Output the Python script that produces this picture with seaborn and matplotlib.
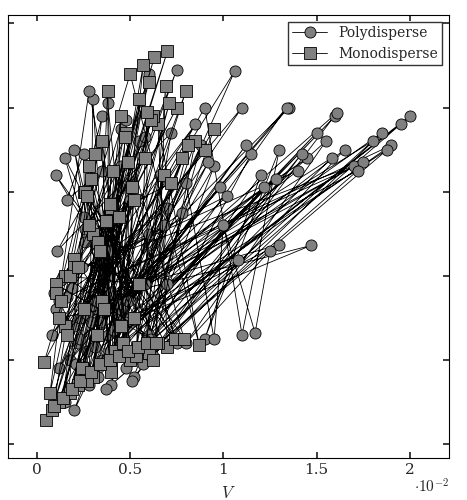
import matplotlib.pyplot as plt
import seaborn as sns

sns.set_theme(style="white")
plt.rcParams['font.family'] = ['DejaVu Serif']
plt.rcParams['mathtext.fontset'] = 'cm'

# Polydisperse (x in units of 1e-2)
poly_x = [0.15, 1.50, 0.25, 1.60, 0.35, 2.00, 0.45, 1.95, 0.55, 1.80, 0.20, 1.70, 0.30, 1.45,
          0.40, 1.30, 0.50, 1.08, 0.60, 1.20, 0.90, 1.30, 1.10, 0.90, 0.12, 0.75, 0.22, 0.60,
          0.28, 0.30, 0.38, 0.20, 0.48, 0.15, 0.65, 0.10, 0.75, 0.50, 0.10, 0.85, 0.08, 1.10,
          0.18, 1.35, 0.32, 1.47, 0.42, 1.65, 0.52, 0.95, 0.58, 0.70, 0.33, 0.60, 0.27, 0.40,
          0.17, 0.25, 0.23, 1.06, 0.36, 1.34, 0.44, 1.61, 0.62, 1.85, 0.70, 1.55, 0.80, 1.25,
          1.17, 1.00, 0.95, 0.80, 0.46, 0.55, 0.38, 0.45, 0.26, 0.35, 0.14, 0.20, 0.09, 0.12,
          0.30, 0.50, 0.40, 0.66, 0.20, 0.88, 0.56, 1.15, 0.34, 1.40, 0.24, 1.75, 0.16, 1.90,
          0.21, 0.98, 0.31, 1.12, 0.41, 1.28, 0.51, 1.42, 0.61, 1.58, 0.27, 1.72, 0.37, 1.88,
          0.47, 0.68, 0.57, 0.78, 0.19, 0.58, 0.29, 0.48, 0.39, 0.38, 0.49, 0.28, 0.13, 1.02,
          0.23, 1.22, 0.33, 0.92, 0.43, 0.82, 0.53, 0.72, 0.11, 0.35, 0.16, 0.25, 0.26, 0.45]
poly_y = [0.50, 3.70, 0.80, 3.90, 1.00, 3.90, 1.20, 3.80, 1.10, 3.60, 1.40, 3.30, 1.60, 3.40,
          1.80, 2.37, 1.50, 2.19, 1.30, 3.20, 1.25, 3.50, 1.30, 4.00, 0.90, 4.45, 1.20, 4.40,
          0.70, 4.10, 1.30, 3.50, 0.90, 3.40, 1.20, 3.20, 1.20, 3.00, 1.60, 3.80, 1.30, 4.00,
          1.00, 4.00, 1.70, 2.36, 1.40, 3.50, 0.80, 3.30, 1.90, 2.80, 2.20, 2.50, 1.10, 2.30,
          0.60, 2.70, 1.50, 4.43, 0.95, 4.00, 1.65, 3.94, 1.05, 3.70, 1.90, 3.60, 1.20, 2.30,
          1.32, 2.60, 1.25, 3.10, 1.60, 3.60, 2.00, 3.75, 2.40, 3.90, 2.00, 2.20, 1.80, 1.70,
          0.85, 2.90, 0.70, 3.20, 0.40, 3.55, 1.00, 3.45, 1.45, 3.25, 2.10, 3.35, 1.75, 3.55,
          0.95, 3.05, 1.15, 3.55, 1.35, 3.15, 0.75, 3.45, 1.25, 3.40, 1.55, 3.25, 0.65, 3.50,
          1.45, 2.60, 0.95, 2.75, 1.85, 3.65, 1.45, 3.85, 1.10, 4.05, 1.70, 4.20, 1.95, 2.95,
          1.25, 3.05, 0.80, 3.35, 1.55, 3.60, 1.15, 3.70, 2.30, 3.25, 2.90, 3.45, 2.55, 3.30]

# Monodisperse
mono_x = [0.05, 0.63, 0.08, 0.70, 0.12, 0.60, 0.18, 0.55, 0.22, 0.80, 0.30, 0.45, 0.40, 0.35,
          0.50, 0.28, 0.60, 0.25, 0.70, 0.65, 0.87, 0.50, 0.04, 0.75, 0.15, 0.90, 0.25, 0.40,
          0.35, 0.30, 0.45, 0.20, 0.55, 0.15, 0.65, 0.10, 0.10, 0.58, 0.20, 0.48, 0.32, 0.38,
          0.42, 0.68, 0.52, 0.85, 0.62, 0.72, 0.28, 0.33, 0.18, 0.26, 0.13, 0.22, 0.07, 0.12,
          0.36, 0.44, 0.46, 0.52, 0.24, 0.62, 0.16, 0.78, 0.27, 0.57, 0.40, 0.34, 0.53, 0.95,
          0.09, 0.31, 0.14, 0.41, 0.19, 0.51, 0.23, 0.61, 0.29, 0.71, 0.34, 0.81, 0.39, 0.29,
          0.44, 0.39, 0.49, 0.49, 0.54, 0.59, 0.59, 0.69, 0.64, 0.37, 0.74, 0.27, 0.79, 0.47]
mono_y = [0.29, 4.60, 0.40, 4.67, 0.50, 4.30, 0.60, 4.10, 0.70, 4.20, 0.80, 3.90, 0.90, 3.60,
          1.00, 3.30, 1.08, 3.00, 1.15, 3.80, 1.18, 4.40, 0.98, 4.00, 1.40, 3.50, 1.60, 2.80,
          1.70, 2.50, 1.40, 2.20, 1.90, 2.00, 1.20, 1.90, 1.80, 3.40, 2.10, 3.70, 1.30, 4.20,
          1.10, 3.20, 1.50, 3.60, 1.00, 3.10, 2.60, 2.40, 2.00, 3.00, 1.70, 2.10, 0.60, 1.50,
          1.60, 2.70, 1.20, 2.90, 0.90, 3.90, 1.30, 3.40, 0.75, 4.50, 0.85, 2.30, 1.05, 3.75,
          0.45, 3.45, 0.55, 3.25, 0.65, 3.05, 0.75, 3.85, 0.85, 4.05, 0.95, 3.55, 1.00, 3.15,
          1.05, 2.85, 1.10, 3.35, 1.15, 3.95, 1.20, 4.25, 1.20, 2.65, 1.25, 2.95, 1.25, 3.65]

fig = plt.figure(figsize=(4.67, 5.0), dpi=100)
ax = fig.add_axes([8/467, 42/500, 441/467, 443/500])

kw = dict(sort=False, estimator=None, ax=ax, color='black', lw=0.6, markersize=8,
          markerfacecolor='#808080', markeredgecolor='black', markeredgewidth=0.6)
sns.lineplot(x=poly_x, y=poly_y, marker='o', label='Polydisperse', **kw)
sns.lineplot(x=mono_x, y=mono_y, marker='s', label='Monodisperse', **kw)

ax.set_xlim(-0.155, 2.21)
ax.set_ylim(-0.167, 5.1)
ax.set_xticks([0, 0.5, 1, 1.5, 2])
ax.set_xticklabels(['0', '0.5', '1', '1.5', '2'])
ax.set_yticks([0, 1, 2, 3, 4, 5])
ax.tick_params(axis='both', direction='in', length=4, labelsize=11,
               left=True, bottom=True, top=True, right=True)
ax.tick_params(axis='y', pad=8)
for s in ax.spines.values():
    s.set_color('black')
    s.set_linewidth(0.8)
ax.set_xlabel('$V$', fontsize=12, labelpad=6)
ax.text(1.0, -0.045, r'$\cdot 10^{-2}$', transform=ax.transAxes, ha='right', va='top', fontsize=11)
ax.legend(loc='upper right', fontsize=10, frameon=True, fancybox=False, edgecolor='black',
          borderpad=0.3, handlelength=2.5)

fig.savefig('out.png', dpi=100)
